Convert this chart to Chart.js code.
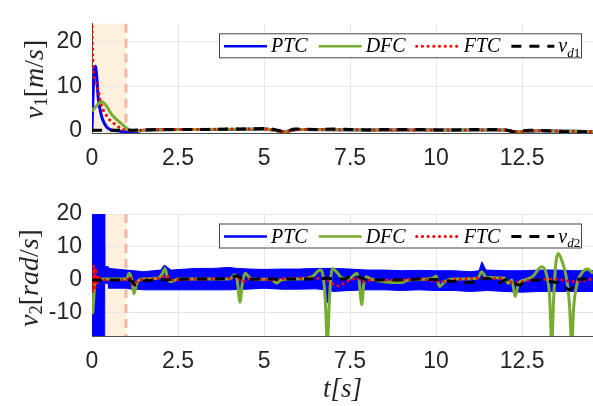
<!DOCTYPE html>
<html>
<head>
<meta charset="utf-8">
<script src="https://cdn.jsdelivr.net/npm/chart.js@4.4.1/dist/chart.umd.min.js"></script>
<style>
html,body{margin:0;padding:0;background:#fff;}
#wrap{position:relative;width:593px;height:406px;overflow:hidden;}
#c1{position:absolute;left:0;top:0;}
#c2{position:absolute;left:0;top:175px;}
</style>
</head>
<body>
<div id="wrap">
  <canvas id="c1" width="593" height="175"></canvas>
  <canvas id="c2" width="593" height="231"></canvas>
</div>
<script>
// two stacked panels: linear velocity v1 (top) and angular velocity v2 (bottom)

const X_TICKS = [0, 2.5, 5, 7.5, 10, 12.5];
const X_RANGE = [0, 14.56];
const Y1_TICKS = [0, 10, 20];
const Y1_RANGE = [-0.5, 24];
const Y2_TICKS = [-10, 0, 10, 20];
const Y2_RANGE = [-17, 20];
const SHADE = [0, 1]; // transient window, shaded

// ---- top panel: v1 [m/s] ----
const ptc1T = [0, 0.03, 0.07, 0.1, 0.14, 0.18, 0.23, 0.28, 0.35, 0.42, 0.5, 0.6, 0.75, 0.9, 1.05, 1.2, 1.35, 1.5, 2.5, 4, 5, 5.6, 6, 8, 10, 12, 12.3, 13, 14.56];
const ptc1V = [0, 8, 13.5, 14.5, 12, 7.5, 5, 3.2, 1.8, 0.9, 0.4, 0.1, 0, -0.2, -0.3, -0.4, -0.1, 0.1, 0.3, 0.3, 0.4, -0.2, 0.3, 0.2, 0.2, 0.2, -0.3, 0, -0.2];

const dfc1T = [0, 0.1, 0.2, 0.28, 0.35, 0.45, 0.56, 0.7, 0.85, 1.0, 1.1, 1.25, 1.5, 3, 5, 5.6, 6, 8, 10, 12, 12.3, 13, 14.56];
const dfc1V = [4.4, 5.3, 6.2, 6.5, 6.2, 5.2, 3.8, 2.6, 1.6, 0.6, 0.2, 0, 0.1, 0.3, 0.4, -0.2, 0.3, 0.2, 0.2, 0.2, -0.2, 0, -0.2];

const ftc1T = [0, 0.01, 0.03, 0.06, 0.1, 0.17, 0.27, 0.37, 0.51, 0.66, 0.85, 1.1, 1.3, 3, 5, 5.6, 6, 8, 10, 12, 12.3, 13, 14.56];
const ftc1V = [26, 21, 15, 12.5, 11, 9.5, 5.8, 4.1, 2.5, 1.5, 0.5, 0, 0.1, 0.3, 0.4, -0.2, 0.3, 0.2, 0.2, 0.2, -0.2, 0, -0.2];

const vd1T = [0, 0.5, 1, 1.5, 2, 2.5, 3, 3.5, 4, 4.5, 5, 5.3, 5.6, 5.9, 6.5, 7, 7.5, 8, 8.5, 9, 9.5, 10, 10.5, 11, 11.5, 12, 12.3, 12.7, 13.2, 13.7, 14.2, 14.56];
const vd1V = [0.1, 0.1, 0.1, 0.2, 0.3, 0.3, 0.3, 0.3, 0.4, 0.4, 0.5, 0.3, -0.2, 0.4, 0.3, 0.4, 0.3, 0.2, 0.3, 0.3, 0.3, 0.2, 0.2, 0.3, 0.3, 0.2, -0.2, 0.1, 0, -0.2, -0.2, -0.2];

// ---- bottom panel: v2 [rad/s] ----
// PTC chatters heavily, so it is read as an upper / lower envelope
const ptc2UpT = [0, 0.36, 0.37, 0.47, 0.48, 1.0, 1.5, 2.0, 2.1, 2.3, 3, 3.5, 4, 4.2, 4.6, 5, 5.5, 6, 6.5, 7, 7.5, 8, 8.5, 9, 9.5, 10, 10.5, 11, 11.25, 11.33, 11.45, 12, 12.5, 13, 13.5, 14, 14.56];
const ptc2UpV = [22, 22, 4, 4, 3.5, 3, 2.5, 3, 4.5, 3, 3.5, 3.5, 3.8, 3.5, 3.3, 3.2, 3.3, 3.3, 3.5, 3.5, 3.3, 3, 3, 2.8, 2.9, 2.8, 2.8, 2.5, 2.8, 5.5, 3, 2.8, 2.8, 3, 3, 2.8, 2.8];
const ptc2LoT = [0, 0.36, 0.37, 0.47, 0.48, 1.0, 1.15, 1.22, 1.3, 1.5, 2, 3, 4, 4.5, 5, 5.5, 6, 6.5, 6.78, 6.84, 6.9, 7, 7.5, 8, 8.5, 9, 9.5, 10, 10.5, 11, 11.5, 12, 12.5, 13, 13.5, 14, 14.56];
const ptc2LoV = [-19, -19, -1, -1, -2.5, -2.5, -2.8, -3.8, -2.8, -3, -3, -3, -3, -2.8, -2.5, -2.8, -2.8, -2.7, -3, -7, -3, -3.5, -3.2, -3, -3, -3.2, -3, -3.2, -3.2, -3.5, -3.2, -3.5, -3.7, -3.5, -3.5, -3.5, -3.5];

const dfc2T = [0, 0.02, 0.05, 0.08, 0.12, 0.2, 1.0, 1.08, 1.15, 1.22, 1.3, 1.45, 1.9, 2.05, 2.12, 2.2, 2.3, 2.5, 3, 4, 4.15, 4.22, 4.3, 4.37, 4.45, 4.6, 4.8, 5.2, 5.37, 5.5, 6, 6.4, 6.63, 6.72, 6.78, 6.84, 6.9, 6.95, 7.0, 7.1, 7.3, 7.5, 7.69, 7.76, 7.84, 7.9, 7.98, 8.1, 9.0, 9.2, 9.9, 10.0, 10.1, 10.25, 10.5, 11.2, 11.33, 11.45, 12.0, 12.1, 12.2, 12.3, 12.4, 12.58, 12.8, 13.07, 13.2, 13.3, 13.36, 13.42, 13.48, 13.55, 13.65, 13.8, 13.88, 13.94, 14.0, 14.1, 14.23, 14.4, 14.56];
const dfc2V = [-3, -10, -6, -1, 0, 0.3, 0.3, 2, 0.5, -4.2, -1, 0.3, 0.5, 2, 3.5, 0.5, -0.5, 0.3, 0.3, 0.3, 1.5, 0, -6.8, -1, 2, 0.5, 0.2, 0.2, -1, 0, 0.3, 1, 3, 1, -6, -19, -6, 1.5, 3.5, 2.5, 0.5, 0.5, 2, 0, -7.5, -1, 1, 0.3, -0.8, 0, 0.5, 1.2, -2, -0.5, 0.3, 0.5, 2.5, 0.8, 0.5, -1, 0, -5, -1, 0, 1, 4, 2, -5, -19, -5, 5, 8, 6, 0, -8, -19, -8, -1, 2, 3.3, 2];

const ftc2T = [0, 0.02, 0.05, 0.08, 0.11, 0.14, 0.18, 0.22, 0.3, 0.5, 1.0, 1.1, 1.2, 1.35, 2.0, 2.15, 2.3, 3, 4, 4.2, 4.35, 4.6, 5.3, 5.5, 6.5, 6.8, 6.9, 7.15, 7.4, 7.7, 7.9, 8.1, 9, 9.5, 10.1, 10.5, 11.3, 11.8, 12.3, 12.8, 13.5, 14, 14.56];
const ftc2V = [0, -4, 4.5, -3, 3.5, -1, 1.5, 0.5, 0.2, 0, 0, 1, -1.5, 0, 0.5, 1.5, 0, 0.2, 0.5, 1, -0.5, 0.3, 0, 0.3, 0.5, 0.5, -0.5, -1.8, -0.5, 0.5, -0.5, 0, 0, 0.3, -0.5, 0, 0.5, 0.5, -0.8, 0, 0.2, -0.5, 0.3];

const vd2T = [0, 0.5, 1.0, 1.15, 1.25, 1.4, 1.6, 2.0, 2.5, 3.0, 3.5, 4.0, 4.2, 4.35, 4.6, 5.0, 5.5, 6.0, 6.5, 6.8, 7.0, 7.3, 7.6, 7.8, 8.0, 8.5, 9.0, 9.5, 10.0, 10.5, 11.0, 11.3, 11.5, 11.8, 12.1, 12.4, 12.7, 13.0, 13.3, 13.6, 13.9, 14.05, 14.2, 14.56];
const vd2V = [0, 0, 0, -0.3, -1.5, -0.5, -0.2, 0, 0.2, 0.3, 0.3, 0.6, 1.2, 0.5, 0.2, 0.3, 0.3, 0.3, 0.3, 0.5, 0.4, 0.3, 1.3, 0.8, 0, 0, 0, 0.3, 0.1, -0.5, -0.8, 0.2, 0.5, -1, 0.3, -1.5, -0.2, 0, -0.5, -1, -3, -0.5, 0.3, 0.3];

const LEGEND_NAMES = ['PTC', 'DFC', 'FTC'];

// styles
const BLUE = '#0000ff', GREEN = '#77ac30', RED = '#ff0000', BLACK = '#000000';
const TICK_FONT = {family: 'Liberation Sans, Arial, sans-serif', size: 23};
const SERIF = 'Liberation Serif, Times New Roman, serif';
const DOTS = [0.1, 5.6];   // round caps turn these into dots
const DASHES = [10, 8];

const pts = (t, v) => t.map((x, i) => ({x, y: v[i]}));

function line(label, t, v, color, extra){
  return Object.assign({label, data: pts(t, v), borderColor: color, backgroundColor: color,
    borderWidth: 3, pointRadius: 0, fill: false, cubicInterpolationMode: 'monotone'}, extra || {});
}

const LEGEND_STYLE = [
  {color: BLUE, width: 2.5, dash: [], cap: 'butt'},
  {color: GREEN, width: 2.5, dash: [], cap: 'butt'},
  {color: RED, width: 3, dash: DOTS, cap: 'round'},
  {color: BLACK, width: 3, dash: DASHES, cap: 'butt'}
];

// draw math-ish text: parts [{t, italic, sub}]
function mathText(ctx, parts, size, x, y, measureOnly){
  let w = 0;
  parts.forEach(p => {
    const s = p.sub ? size * 0.66 : size;
    ctx.font = (p.italic ? 'italic ' : '') + s + 'px ' + SERIF;
    const pw = ctx.measureText(p.t).width;
    if(!measureOnly) ctx.fillText(p.t, x + w, y + (p.sub ? size * 0.22 : 0));
    w += pw;
  });
  return w;
}

function decor(yTitle, vdSub){
  return {
    id: 'decor',
    beforeDraw(chart){
      const {ctx, chartArea: a, scales: {x}} = chart;
      const x0 = x.getPixelForValue(SHADE[0]), x1 = x.getPixelForValue(SHADE[1]);
      ctx.save();
      ctx.fillStyle = '#fdf1dd';
      ctx.fillRect(x0, a.top, x1 - x0, a.bottom - a.top);
      ctx.restore();
    },
    beforeDatasetsDraw(chart){
      const {ctx, chartArea: a, scales: {x}} = chart;
      const xe = Math.round(x.getPixelForValue(SHADE[1]));
      ctx.save();
      ctx.strokeStyle = '#f3b7a1'; ctx.lineWidth = 3; ctx.setLineDash([9, 6]);
      ctx.beginPath(); ctx.moveTo(xe, a.top); ctx.lineTo(xe, a.bottom); ctx.stroke();
      ctx.restore();
    },
    afterDraw(chart){
      const {ctx, chartArea: a} = chart;
      ctx.save();
      // y axis title, rotated
      ctx.fillStyle = '#262626';
      ctx.textBaseline = 'middle';
      const size = 28;
      const tw = mathText(ctx, yTitle.parts, size, 0, 0, true);
      ctx.translate(yTitle.cx, (a.top + a.bottom) / 2 + yTitle.dy);
      ctx.rotate(-Math.PI / 2);
      mathText(ctx, yTitle.parts, size, -tw / 2, 0);
      ctx.restore();

      // legend box
      ctx.save();
      const bx = 219, by = a.top + 9.5, bw = 362, bh = 24;
      ctx.fillStyle = '#fff'; ctx.fillRect(bx, by, bw, bh);
      ctx.strokeStyle = '#444'; ctx.lineWidth = 1;
      ctx.strokeRect(bx + 0.5, by + 0.5, bw, bh);
      const cy = by + bh / 2 + 1;
      let x = bx + 5;
      const labels = LEGEND_NAMES.map(n => [{t: n, italic: true}]).concat([[{t: 'v', italic: true}, {t: 'd', italic: true, sub: true}, {t: vdSub, sub: true}]]);
      labels.forEach((parts, i) => {
        const st = LEGEND_STYLE[i];
        ctx.beginPath();
        ctx.setLineDash(st.dash); ctx.lineCap = st.cap; ctx.strokeStyle = st.color; ctx.lineWidth = st.width;
        ctx.moveTo(x, cy); ctx.lineTo(x + 43, cy); ctx.stroke();
        x += 47;
        ctx.setLineDash([]); ctx.lineCap = 'butt';
        ctx.fillStyle = '#000'; ctx.textBaseline = 'alphabetic';
        const w = mathText(ctx, parts, 20, x, cy + 6);
        x += w + 11;
      });
      ctx.restore();
    }
  };
}

function baseOptions(yRange, yTicks, xHeight, padTop, xTitle){
  return {
    responsive: false,
    animation: false,
    events: [],
    layout: {padding: {top: padTop, left: 0, right: 0, bottom: 0}},
    plugins: {legend: {display: false}, tooltip: {enabled: false}},
    scales: {
      x: {
        type: 'linear', min: X_RANGE[0], max: X_RANGE[1],
        afterBuildTicks: s => { s.ticks = X_TICKS.map(v => ({value: v})); },
        afterFit: s => { s.height = xHeight; },
        ticks: {font: TICK_FONT, color: '#262626', padding: 12, maxRotation: 0, autoSkip: false,
          callback: v => String(v)},
        grid: {color: '#e6e6e6', drawTicks: false},
        border: {color: '#4d4d4d'},
        title: xTitle ? {display: true, text: 't[s]', color: '#262626',
          font: {family: SERIF, style: 'italic', size: 27}, padding: {top: 0, bottom: 0}} : {display: false}
      },
      y: {
        type: 'linear', min: yRange[0], max: yRange[1],
        afterBuildTicks: s => { s.ticks = yTicks.map(v => ({value: v})); },
        afterFit: s => { s.width = 92; },
        ticks: {font: TICK_FONT, color: '#262626', padding: 10, callback: v => String(v)},
        grid: {color: '#e6e6e6', drawTicks: false},
        border: {color: '#4d4d4d'}
      }
    }
  };
}

const redStyle = {borderDash: DOTS, borderCapStyle: 'round', borderWidth: 3, order: 2};

new Chart(document.getElementById('c1'), {
  type: 'line',
  data: {datasets: [
    line('v_d1', vd1T, vd1V, BLACK, {borderDash: DASHES, order: 1}),
    line('FTC', ftc1T, ftc1V, RED, redStyle),
    line('DFC', dfc1T, dfc1V, GREEN, {order: 3}),
    line('PTC', ptc1T, ptc1V, BLUE, {order: 4})
  ]},
  options: baseOptions(Y1_RANGE, Y1_TICKS, 42, 10, false),
  plugins: [decor({cx: 36, dy: 1, parts: [
    {t: 'v', italic: true}, {t: '1', sub: true}, {t: '['}, {t: 'm', italic: true}, {t: '/'}, {t: 's', italic: true}, {t: ']'}
  ]}, '1')]
});

new Chart(document.getElementById('c2'), {
  type: 'line',
  data: {datasets: [
    line('PTC', ptc2UpT, ptc2UpV, BLUE, {borderWidth: 1, fill: '+1', order: 5, cubicInterpolationMode: 'default', tension: 0}),
    line('PTC low', ptc2LoT, ptc2LoV, BLUE, {borderWidth: 1, order: 5, cubicInterpolationMode: 'default', tension: 0}),
    line('v_d2', vd2T, vd2V, BLACK, {borderDash: DASHES, order: 1}),
    line('FTC', ftc2T, ftc2V, RED, redStyle),
    line('DFC', dfc2T, dfc2V, GREEN, {order: 3})
  ]},
  options: baseOptions(Y2_RANGE, Y2_TICKS, 70, 39, true),
  plugins: [decor({cx: 31, dy: 3, parts: [
    {t: 'v', italic: true}, {t: '2', sub: true}, {t: '['}, {t: 'rad', italic: true}, {t: '/'}, {t: 's', italic: true}, {t: ']'}
  ]}, '2')]
});
</script>
</body>
</html>
